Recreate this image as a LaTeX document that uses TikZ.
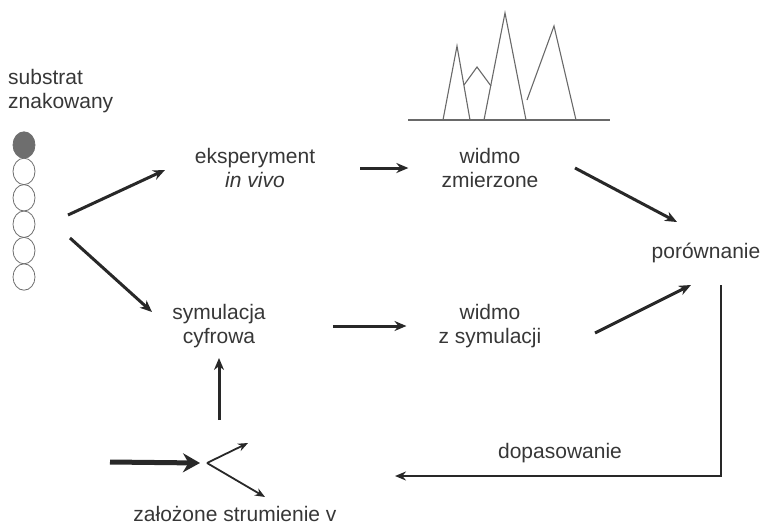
\documentclass[tikz,border=0pt]{standalone}
\usepackage{fontspec}
\setmainfont{Liberation Sans}
\usepackage{tikz}
\usetikzlibrary{arrows.meta, positioning, calc, shapes.geometric}
\definecolor{txtgray}{RGB}{55,55,55}
\definecolor{lngray}{RGB}{40,40,40}
\definecolor{specgray}{RGB}{105,105,105}
\definecolor{dotgray}{RGB}{110,110,110}
\tikzset{
  label/.style={font=\fontsize{21}{24}\selectfont, text=txtgray,
    align=center, inner sep=0pt},
  arrow/.style={-{Stealth[length=12pt, width=10pt]}, line width=3pt, color=lngray},
  thinarrow/.style={-{Stealth[length=10pt, width=8pt]}, line width=1.8pt, color=lngray},
  fatarrow/.style={-{Stealth[length=17pt, width=19pt]}, line width=5pt, color=lngray},
  retline/.style={-{Stealth[length=11pt, width=9pt]}, line width=2.2pt, color=lngray},
  atom/.style={ellipse, draw=dotgray, line width=0.8pt, minimum width=22pt,
    minimum height=26.4pt, inner sep=0pt},
  spec/.style={line width=1.1pt, color=specgray}
}
\begin{document}
\begin{tikzpicture}[x=1pt, y=-1pt]
  \useasboundingbox (0,0) rectangle (761,528);

  % labelled substrate
  \node[label, align=left, anchor=west] (substr) at (8,91) {substrat\\znakowany};
  \node[atom, fill=dotgray] (c1) at (24,145) {};
  \foreach \i [evaluate=\i as \yy using 145+(\i-1)*26.4] in {2,...,6}
    \node[atom] (c\i) at (24,\yy) {};

  % spectrum
  \draw[spec] (408,120) -- (610,120);
  \draw[spec] (443,120) -- (457,46) -- (470,120);
  \draw[spec] (464,85) -- (477,67) -- (491,86);
  \draw[spec] (484,120) -- (505,13) -- (526,120);
  \draw[spec] (527,100) -- (554,26) -- (576,120);

  % labels
  \node[label] (eksp) at (255,168) {eksperyment\\\textit{in vivo}};
  \node[label] (wmeas) at (490,168) {widmo\\zmierzone};
  \node[label] (compare) at (706,253) {porównanie};
  \node[label] (sym) at (219,326) {symulacja\\cyfrowa};
  \node[label] (wsim) at (490,326) {widmo\\z symulacji};
  \node[label] (fluxes) at (235,514) {założone strumienie v};
  \node[label] (fit) at (560,453) {dopasowanie};

  % free ends
  \coordinate (forkup) at (68,215);
  \coordinate (forkdn) at (70,238);
  \coordinate (toeksp) at (165,170);
  \coordinate (tosym) at (152,312);
  \coordinate (meas0) at (575,168);
  \coordinate (meas1) at (677,222);
  \coordinate (sim0) at (595,333);
  \coordinate (sim1) at (691,285);
  \coordinate (rettop) at (721,285);
  \coordinate (retend) at (395,476);
  \coordinate (inflow) at (110,462);
  \coordinate (split) at (207,463);
  \coordinate (outup) at (248,443);
  \coordinate (outdn) at (265,497);
  \coordinate (upfoot) at (219,420);
  \coordinate (uphead) at (219,358);

  % connectors
  \draw[arrow] (forkup) -- (toeksp);
  \draw[arrow] (forkdn) -- (tosym);
  \draw[arrow, shorten <=45pt, shorten >=33pt] (eksp.east) -- (wmeas.west);
  \draw[arrow, shorten <=67pt, shorten >=32pt] (sym.east) -- (wsim.west);
  \draw[arrow] (meas0) -- (meas1);
  \draw[arrow] (sim0) -- (sim1);
  \draw[arrow] (upfoot) -- (uphead);
  \draw[retline] (rettop) |- (retend);
  \draw[fatarrow] (inflow) -- ($(split)+(-7,0)$);
  \draw[thinarrow] (split) -- (outup);
  \draw[thinarrow] (split) -- (outdn);
\end{tikzpicture}
\end{document}
